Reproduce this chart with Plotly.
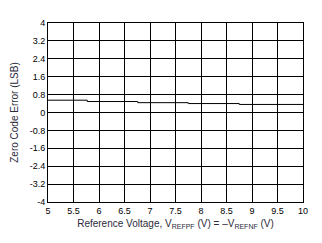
import plotly.graph_objects as go

# Data
ref_voltage = [5.0, 5.77, 6.76, 7.75, 8.75, 10.0]
zero_code_error = [0.55, 0.49, 0.44, 0.40, 0.36, 0.36]

x_ticks = [5, 5.5, 6, 6.5, 7, 7.5, 8, 8.5, 9, 9.5, 10]
x_labels = ["5", "5.5", "6", "6.5", "7", "7.5", "8", "8.5", "9", "9.5", "10"]
y_ticks = [-4, -3.2, -2.4, -1.6, -0.8, 0, 0.8, 1.6, 2.4, 3.2, 4]
y_labels = ["-4", "-3.2", "-2.4", "-1.6", "-0.8", "0", "0.8", "1.6", "2.4", "3.2", "4"]

fig = go.Figure()
fig.add_trace(go.Scatter(
    x=ref_voltage, y=zero_code_error, mode="lines",
    line=dict(color="black", width=1, shape="hv"),
    showlegend=False, hoverinfo="skip",
))

font = dict(family="Liberation Sans, Arial, sans-serif", size=9, color="black")
fig.update_layout(
    width=322, height=243,
    margin=dict(l=48, r=19, t=23, b=41),
    paper_bgcolor="white", plot_bgcolor="white",
    font=font,
    xaxis=dict(
        range=[5, 10], tickvals=x_ticks, ticktext=x_labels,
        showgrid=True, gridcolor="black", gridwidth=1,
        showline=True, linecolor="black", linewidth=1, mirror=True,
        zeroline=False, ticks="", ticklen=0,
        title=dict(
            text="Reference Voltage, V<sub>REFPF</sub> (V) = \u2013V<sub>REFNF</sub> (V)",
            font=dict(size=10, color="#2b2b3a"), standoff=5,
        ),
    ),
    yaxis=dict(
        range=[-4, 4], tickvals=y_ticks, ticktext=y_labels,
        showgrid=True, gridcolor="black", gridwidth=1,
        showline=True, linecolor="black", linewidth=1, mirror=True,
        zeroline=False, ticks="", ticklen=0,
        title=dict(text="Zero Code Error (LSB)", font=dict(size=10, color="#2b2b3a"), standoff=9),
    ),
)

fig.write_html("out.html")
